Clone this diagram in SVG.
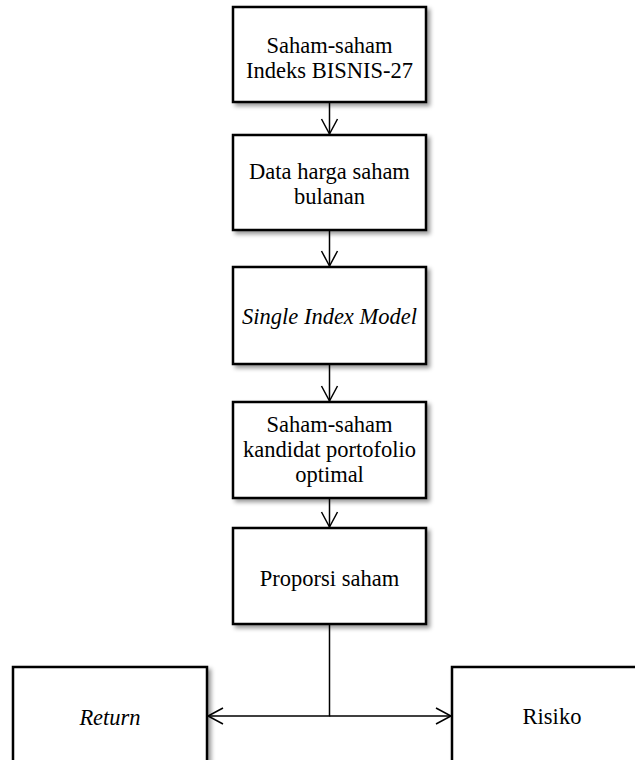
<svg xmlns="http://www.w3.org/2000/svg" width="635" height="760" viewBox="0 0 635 760">
<style>
.box{fill:#fff;stroke:#000;stroke-width:2.5;filter:url(#sh)}
.t{font-family:"Liberation Serif","Times New Roman",serif;font-size:22.5px;fill:#000;text-anchor:middle}
.i{font-style:italic}
.c{fill:none;stroke:#000;stroke-width:1.5}
</style>
<defs>
<filter id="sh" x="-10%" y="-10%" width="130%" height="130%">
<feDropShadow dx="3" dy="3" stdDeviation="2" flood-color="#000" flood-opacity="0.4"/>
</filter>
<marker id="ah" viewBox="0 0 20 20" refX="16" refY="10" markerWidth="20" markerHeight="20" markerUnits="userSpaceOnUse" orient="auto">
<path d="M1,2 L16,10 L1,18" fill="none" stroke="#000" stroke-width="1.5"/>
</marker>
</defs>
<g id="n1"><rect class="box" x="233" y="7" width="193" height="95"/>
<text class="t" x="329.5" y="53">Saham-saham</text><text class="t" x="329.5" y="78">Indeks BISNIS-27</text></g>
<g id="n2"><rect class="box" x="233" y="135" width="193" height="95"/>
<text class="t" x="329.5" y="179">Data harga saham</text><text class="t" x="329.5" y="204">bulanan</text></g>
<g id="n3"><rect class="box" x="233" y="267" width="193" height="97"/>
<text class="t i" x="329.5" y="324">Single Index Model</text></g>
<g id="n4"><rect class="box" x="233" y="402" width="193" height="96"/>
<text class="t" x="329.5" y="432">Saham-saham</text><text class="t" x="329.5" y="457">kandidat portofolio</text><text class="t" x="329.5" y="482">optimal</text></g>
<g id="n5"><rect class="box" x="233" y="528" width="193" height="96"/>
<text class="t" x="329.5" y="586">Proporsi saham</text></g>
<g id="n6"><rect class="box" x="13" y="667" width="194" height="110"/>
<text class="t i" x="110" y="725">Return</text></g>
<g id="n7"><rect class="box" x="452" y="667" width="194" height="110"/>
<text class="t" x="552" y="724">Risiko</text></g>
<g id="connectors">
<line class="c" x1="329.5" y1="103" x2="329.5" y2="134" marker-end="url(#ah)"/>
<line class="c" x1="329.5" y1="231" x2="329.5" y2="266" marker-end="url(#ah)"/>
<line class="c" x1="329.5" y1="365" x2="329.5" y2="401" marker-end="url(#ah)"/>
<line class="c" x1="329.5" y1="499" x2="329.5" y2="527" marker-end="url(#ah)"/>
<path class="c" d="M329.5,625 V716 H208" marker-end="url(#ah)"/>
<path class="c" d="M329.5,716 H451" marker-end="url(#ah)"/>
</g>
</svg>
